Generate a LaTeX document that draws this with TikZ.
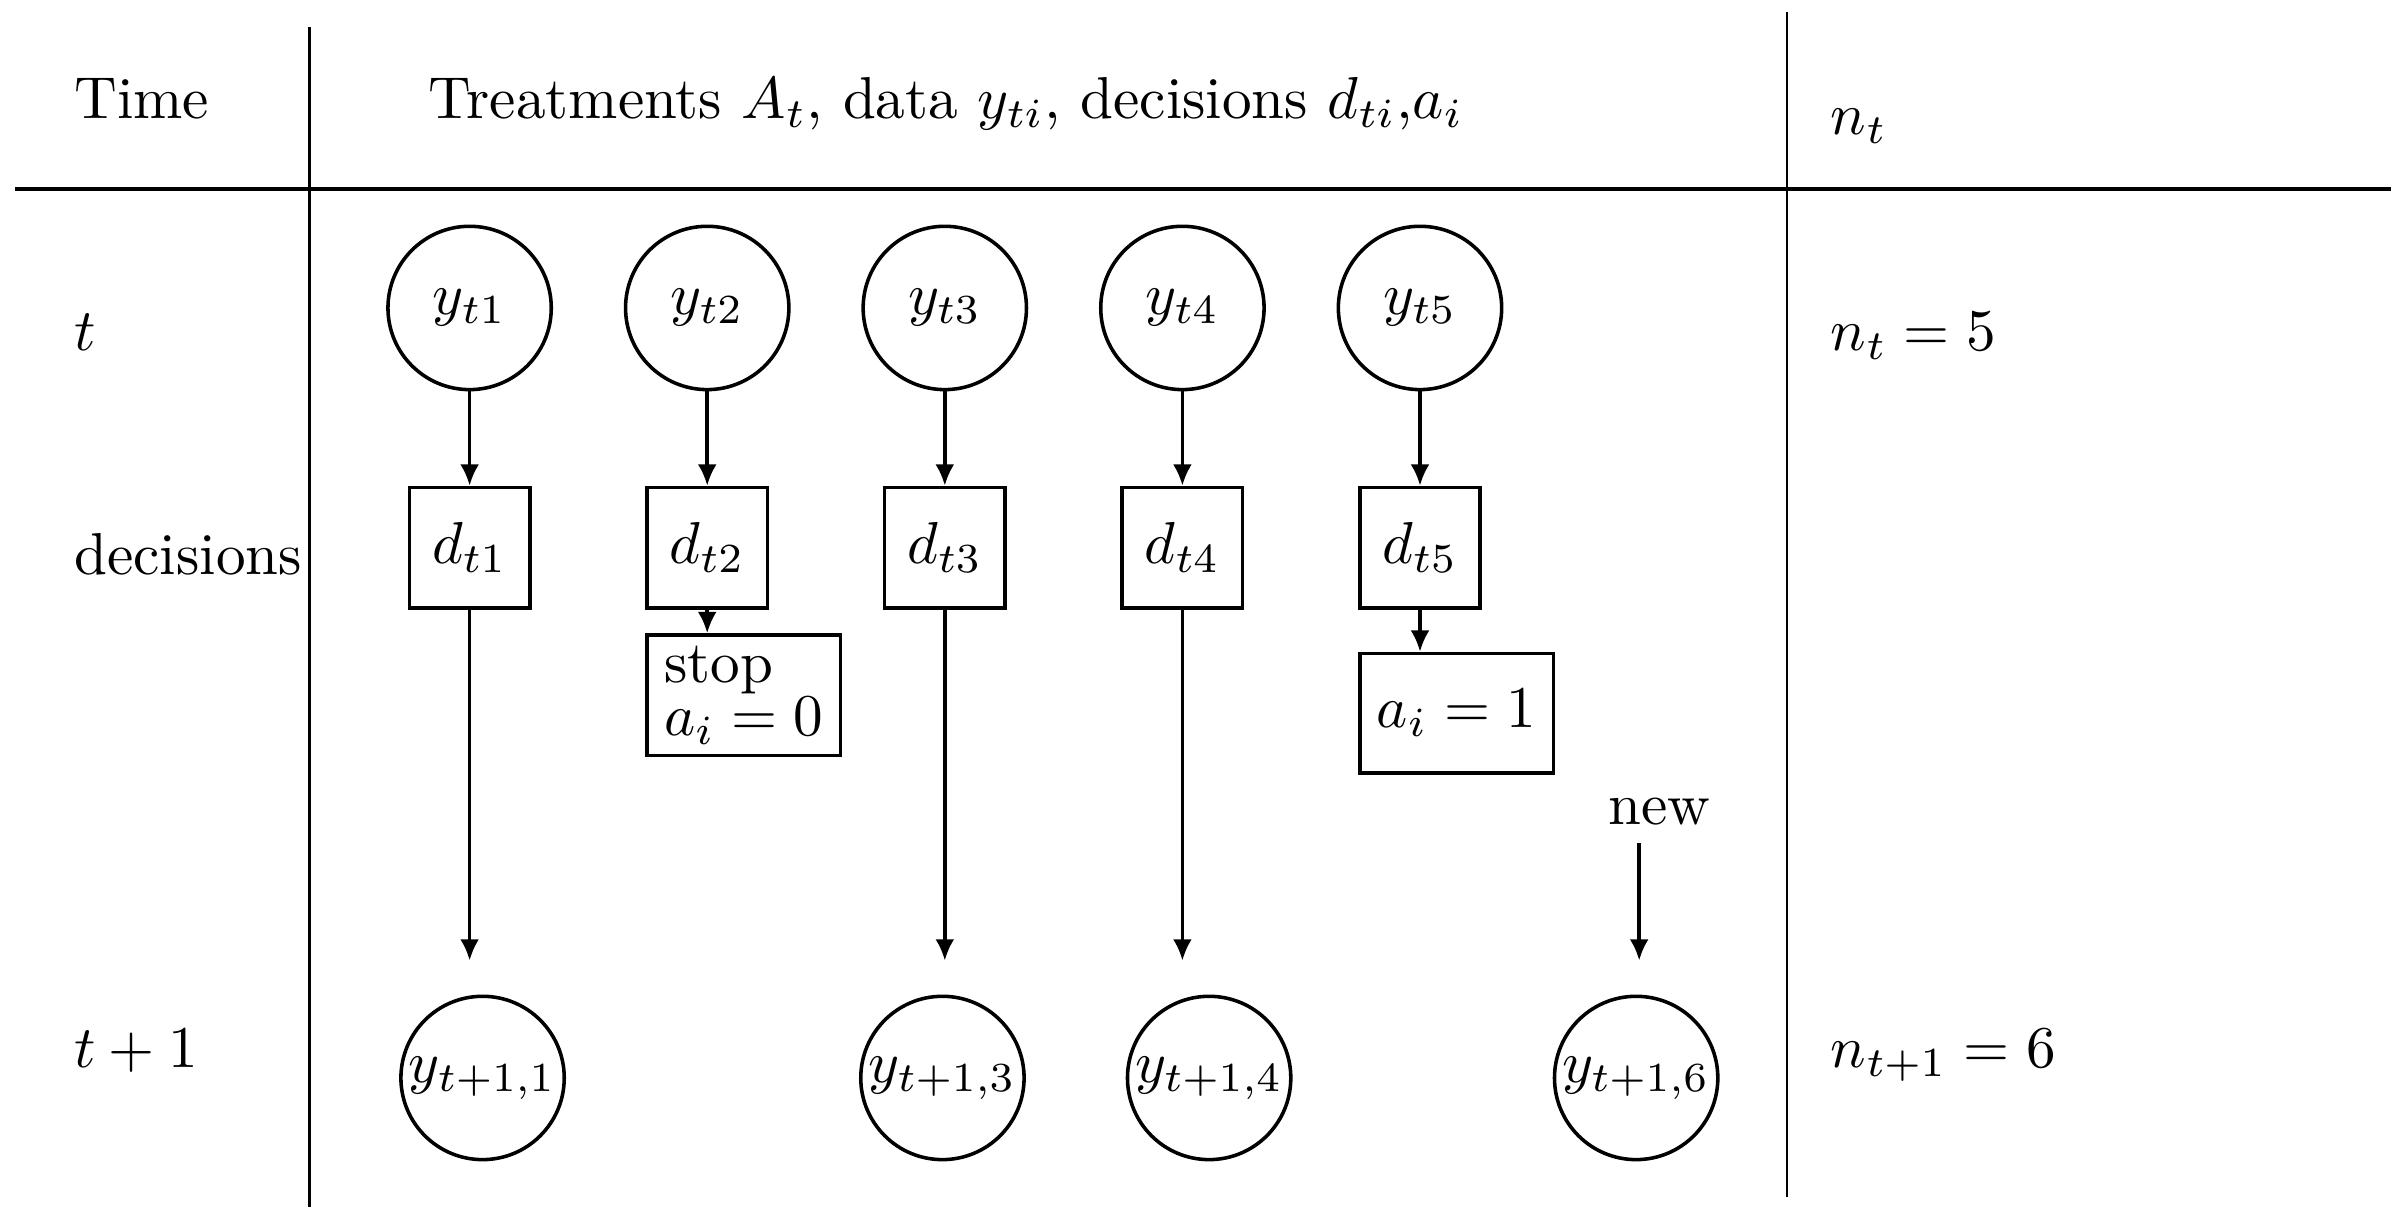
\documentclass[tikz,border=0pt]{standalone}
\usepackage{amsmath}
\usepackage{tikz}
\usetikzlibrary{arrows.meta,positioning}

\begin{document}
\begin{tikzpicture}[node distance=4.2mm,
  every node/.style={font=\normalsize},
  obs/.style={draw,semithick,circle,minimum size=9.7mm,inner sep=0pt},
  dec/.style={draw,semithick,rectangle,minimum size=7.15mm,inner sep=1pt},
  act/.style={draw,semithick,rectangle,minimum width=11.5mm,minimum height=7.1mm,inner sep=1.5pt},
  lab/.style={anchor=base west,inner sep=0pt},
  arr/.style={-{Latex[length=3.6pt,width=3.2pt]},semithick}]
\useasboundingbox (0,0) rectangle (14.20,-7.17);
% table rules
\draw[thick] (0.09,-1.123) -- (14.20,-1.123);
\draw (1.838,-0.163) -- (1.838,-7.17);
\draw (10.614,-0.072) -- (10.614,-7.109);
% header
\node[lab] (time) at (0.435,-0.706) {Time};
\node[lab] (head) at (2.54,-0.706) {Treatments $A_t$, data $y_{ti}$, decisions $d_{ti}$,$a_i$};
\node[lab] (nt) at (10.867,-0.797) {$n_t$};
% row labels
\node[lab] (rowt) at (0.435,-2.083) {$t$};
\node[lab] (rowd) at (0.435,-3.414) {decisions};
\node[lab] (rowtt) at (0.435,-6.339) {$t+1$};
\node[lab] (nt5) at (10.867,-2.083) {$n_t=5$};
\node[lab] (ntt6) at (10.867,-6.339) {$n_{t+1}=6$};
% data at time t
\node[obs] (y1) at (2.789,-1.829) {$y_{t1}$};
\node[obs,right=of y1] (y2) {$y_{t2}$};
\node[obs,right=of y2] (y3) {$y_{t3}$};
\node[obs,right=of y3] (y4) {$y_{t4}$};
\node[obs,right=of y4] (y5) {$y_{t5}$};
% decisions
\node[dec,below=5.6mm of y1] (d1) {$d_{t1}$};
\node[dec,below=5.6mm of y2] (d2) {$d_{t2}$};
\node[dec,below=5.6mm of y3] (d3) {$d_{t3}$};
\node[dec,below=5.6mm of y4] (d4) {$d_{t4}$};
\node[dec,below=5.6mm of y5] (d5) {$d_{t5}$};
\node[act,align=left,minimum height=7.15mm,below=1.4mm of d2.south west,anchor=north west] (stop) {stop\\[-3pt]$a_i=0$};
\node[act,below=2.5mm of d5.south west,anchor=north west] (go) {$a_i=1$};
\node (new) at (9.853,-4.818) {new};
% data at time t+1
\node[obs] (z1) at (2.866,-6.402) {$y_{t+1,1}$};
\node[obs] (z3) at (5.597,-6.402) {$y_{t+1,3}$};
\node[obs] (z4) at (7.181,-6.402) {$y_{t+1,4}$};
\node[obs] (z6) at (9.717,-6.402) {$y_{t+1,6}$};
\coordinate (lvl) at (0,-5.705);
\coordinate (n0) at (9.735,-5.008);
% arrows
\draw[arr] (y1) -- (d1);
\draw[arr] (y2) -- (d2);
\draw[arr] (y3) -- (d3);
\draw[arr] (y4) -- (d4);
\draw[arr] (y5) -- (d5);
\draw[arr] (d2) -- (d2 |- stop.north);
\draw[arr] (d5) -- (d5 |- go.north);
\draw[arr] (d1) -- (d1 |- lvl);
\draw[arr] (d3) -- (d3 |- lvl);
\draw[arr] (d4) -- (d4 |- lvl);
\draw[arr] (n0) -- (n0 |- lvl);
\end{tikzpicture}
\end{document}
